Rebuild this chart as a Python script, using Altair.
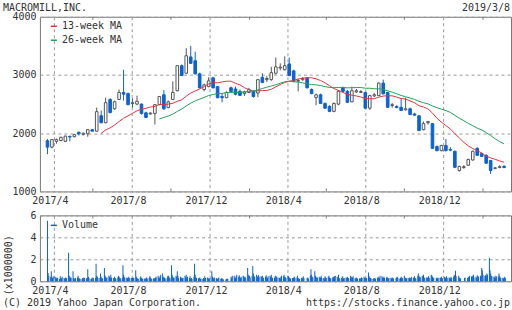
import altair as alt
import pandas as pd

TITLE = "MACROMILL,INC."
AS_OF = "2019/3/8"
COPYRIGHT = "(C) 2019 Yahoo Japan Corporation."
SOURCE = "https://stocks.finance.yahoo.co.jp"
MA_NAMES = ["13-week MA", "26-week MA"]
VOLUME_NAME = "Volume"
VOLUME_UNIT = "(x1000000)"

FIRST_WEEK_WED = "2017-03-22"
FIRST_WEEK_MON = "2017-03-20"

OPEN = [1870, 1760, 1860, 1875, 1860, 1945, 1940, 2015, 1980, 1990,
        2060, 2035, 2300, 2180, 2580, 2420, 2580, 2700, 2680, 2510,
        2500, 2500, 2350, 2330, 2340, 2490, 2660, 2440, 2580, 2730,
        3160, 3030, 3310, 3245, 3020, 2750, 2800, 2950, 2800, 2630,
        2610, 2780, 2760, 2720, 2680, 2700, 2720, 2690, 2960, 2920,
        2920, 3030, 3120, 3090, 3190, 3070, 2895, 2920, 2950, 2750,
        2610, 2660, 2510, 2460, 2375, 2500, 2780, 2720, 2540, 2710,
        2700, 2700, 2430, 2640, 2645, 2860, 2700, 2475, 2460, 2445,
        2400, 2420, 2330, 2300, 2060, 2180, 2165, 1770, 1700, 1790,
        1720, 1690, 1360, 1410, 1450, 1540, 1740, 1650, 1620, 1530,
        1395, 1410, 1430]
HIGH = [1900, 1900, 1910, 1940, 1960, 1960, 1990, 2030, 2010, 2070,
        2070, 2440, 2390, 2610, 2600, 2560, 2750, 3090, 2700, 2600,
        2645, 2510, 2370, 2360, 2500, 2640, 2740, 2560, 2890, 3170,
        3180, 3460, 3500, 3400, 3040, 2850, 2960, 2970, 2810, 2680,
        2720, 2800, 2800, 2750, 2730, 2780, 2740, 2930, 3030, 2980,
        3140, 3300, 3200, 3320, 3300, 3090, 2940, 2960, 2960, 2770,
        2680, 2680, 2530, 2480, 2530, 2740, 2800, 2740, 2800, 2760,
        2740, 2710, 2660, 2690, 2870, 2920, 2710, 2520, 2480, 2600,
        2610, 2440, 2350, 2310, 2200, 2210, 2170, 1790, 1800, 1900,
        1760, 1700, 1440, 1450, 1560, 1700, 1760, 1670, 1640, 1540,
        1420, 1450, 1450]
LOW = [1640, 1740, 1820, 1860, 1850, 1860, 1930, 1960, 1960, 1940,
       2030, 2030, 2170, 2170, 2340, 2400, 2570, 2560, 2480, 2440,
       2480, 2320, 2260, 2320, 2150, 2480, 2400, 2430, 2570, 2720,
       2980, 3020, 3190, 3010, 2770, 2720, 2790, 2770, 2600, 2530,
       2600, 2700, 2650, 2640, 2640, 2690, 2610, 2620, 2860, 2880,
       2900, 3010, 3080, 3080, 2980, 2880, 2720, 2900, 2770, 2670,
       2480, 2500, 2420, 2360, 2360, 2480, 2700, 2520, 2530, 2690,
       2690, 2420, 2400, 2620, 2640, 2670, 2440, 2440, 2430, 2380,
       2390, 2310, 2300, 2040, 2050, 2150, 1730, 1690, 1690, 1690,
       1690, 1400, 1340, 1390, 1440, 1530, 1610, 1590, 1480, 1300,
       1380, 1400, 1400]
CLOSE = [1760, 1890, 1890, 1930, 1950, 1935, 1975, 1990, 2000, 2060,
         2035, 2370, 2180, 2525, 2355, 2540, 2700, 2670, 2490, 2525,
         2550, 2340, 2270, 2345, 2490, 2630, 2420, 2540, 2700, 3160,
         2990, 3330, 3200, 3020, 2780, 2830, 2900, 2780, 2610, 2610,
         2700, 2715, 2670, 2650, 2710, 2750, 2630, 2920, 2870, 2940,
         3040, 3140, 3135, 3160, 2990, 2890, 2905, 2940, 2780, 2680,
         2660, 2510, 2430, 2375, 2510, 2720, 2720, 2530, 2730, 2730,
         2715, 2430, 2645, 2660, 2860, 2675, 2445, 2490, 2440, 2390,
         2420, 2320, 2310, 2045, 2165, 2200, 1740, 1700, 1790, 1700,
         1710, 1415, 1430, 1425, 1550, 1690, 1620, 1600, 1485, 1360,
         1405, 1425, 1410]

# daily volume (millions of shares), one list per week
VOLUME = [
    [5.5, 0.75, 0.5], [0.4, 0.9, 0.35, 0.3, 0.45], [0.4, 0.3, 0.25, 0.35, 0.3],
    [0.2, 0.45, 0.3, 0.25, 0.4], [0.3, 0.2, 0.35, 0.25, 0.3], [2.6, 0.5, 0.4, 0.3, 0.35],
    [0.9, 0.3, 0.25, 0.2, 0.3], [0.35, 0.5, 0.3, 0.25, 0.2], [0.2, 0.3, 0.25, 0.35, 0.3],
    [0.25, 0.3, 1.1, 0.4, 0.3], [0.2, 0.25, 0.3, 0.35, 0.25], [0.3, 1.6, 0.5, 0.4, 0.3],
    [0.3, 0.7, 0.4, 0.3, 0.25], [1.2, 0.5, 0.4, 0.3, 0.35], [0.5, 0.4, 0.3, 0.6, 0.35],
    [0.3, 0.25, 0.4, 0.3, 0.2], [0.35, 0.5, 0.4, 0.3, 0.25], [0.3, 1.45, 0.6, 0.4, 0.3],
    [0.35, 0.3, 0.25, 0.4, 0.3], [0.3, 0.25, 0.3, 0.35, 0.3], [1.0, 0.4, 0.3, 0.25, 0.2],
    [0.35, 0.45, 0.3, 0.2, 0.25], [0.25, 0.2, 0.3, 0.35, 0.25], [0.3, 0.45, 0.35, 0.25, 0.2],
    [0.25, 0.3, 0.2, 0.35, 0.4], [0.5, 0.35, 0.3, 0.45, 0.6], [0.7, 0.4, 0.3, 0.35, 0.25],
    [0.3, 0.45, 0.5, 0.4, 0.3], [1.45, 0.6, 0.4, 0.3, 0.35], [0.5, 0.4, 0.9, 0.5, 0.3],
    [0.4, 0.3, 0.35, 0.25, 0.3], [0.5, 0.35, 0.6, 0.3, 0.4], [0.3, 0.45, 0.25, 0.3, 0.2],
    [0.4, 1.6, 0.6, 0.35, 0.3], [0.25, 0.3, 0.35, 0.2, 0.25], [0.2, 0.3, 0.25, 0.45, 0.3],
    [0.35, 0.3, 0.25, 0.2, 0.3], [0.9, 0.4, 0.3, 0.25, 0.35], [0.3, 0.25, 0.2, 0.3, 0.35],
    [0.2, 0.25, 0.3, 0.2, 0.15], [0.15, 0.2, 0.25, 0.2], [0.4, 0.3, 0.5],
    [0.5, 0.35, 0.3, 0.45, 0.6], [0.4, 0.55, 0.35, 0.3, 0.4], [0.5, 0.45, 0.35, 0.4, 0.3],
    [1.2, 0.6, 0.45, 0.5, 0.35], [0.5, 1.4, 0.7, 0.45, 0.4], [0.6, 0.45, 0.35, 0.55, 0.4],
    [0.45, 0.4, 0.5, 0.35, 0.3], [0.4, 0.55, 0.35, 0.3, 0.45], [0.5, 0.4, 0.6, 0.35, 0.3],
    [0.3, 0.45, 0.5, 0.4, 0.35], [0.35, 0.3, 0.25, 0.4, 0.5], [0.45, 0.6, 0.4, 0.35, 0.3],
    [0.5, 0.45, 0.35, 0.3, 0.25], [0.3, 0.25, 0.35, 0.4, 0.3], [0.35, 0.5, 0.3, 0.25, 0.2],
    [0.3, 0.35, 0.25, 0.45, 0.3], [0.3, 0.35, 0.25], [0.5, 1.1, 0.6, 0.4, 0.35],
    [0.9, 0.5, 0.4, 0.3, 0.35], [0.4, 0.3, 0.35, 0.5, 0.3], [0.3, 0.25, 0.45, 0.35, 0.3],
    [0.4, 0.5, 0.35, 0.3, 0.25], [0.35, 0.4, 0.3, 0.45, 0.5], [0.4, 0.35, 0.6, 0.3, 0.25],
    [0.3, 0.45, 0.35, 0.25, 0.3], [0.35, 0.3, 0.4, 0.25, 0.3], [0.5, 0.4, 0.3, 0.35, 0.45],
    [0.3, 0.25, 0.35, 0.3, 0.2], [0.25, 0.3, 0.2, 0.35, 0.3], [0.4, 0.3, 0.35, 0.25, 0.3],
    [0.8, 0.45, 0.35, 0.3, 0.25], [0.2, 0.25, 0.3, 0.2, 0.25], [0.3, 0.4, 0.35, 0.3, 0.5],
    [0.45, 0.35, 0.3, 0.4, 0.3], [0.35, 0.4, 0.3, 0.25, 0.3], [0.3, 0.25, 0.35, 0.3, 0.25],
    [0.3, 0.35, 0.4, 0.3], [0.25, 0.3, 0.4, 0.35, 0.3], [0.5, 0.35, 0.3, 0.25, 0.3],
    [0.3, 0.35, 0.3, 0.25, 0.4], [0.35, 0.3, 0.45, 0.3, 0.25], [0.5, 0.7, 0.45, 0.4, 0.35],
    [0.5, 0.4, 0.6, 0.35, 0.3], [0.35, 0.3, 0.4, 0.45, 0.3], [0.6, 0.55, 0.4, 0.35, 0.3],
    [0.3, 0.35, 0.25, 0.3], [0.35, 0.3, 0.4, 0.3, 0.25], [0.4, 0.3, 0.35, 0.45, 0.3],
    [0.35, 0.3, 0.25, 0.4, 0.3], [0.4, 0.6, 0.5, 0.95, 0.45], [0.5, 0.35, 0.3, 0.25],
    [0.3, 0.35], [0.3, 0.4, 0.35, 0.5], [0.4, 0.5, 0.45, 0.6, 0.35],
    [0.4, 0.3, 0.55, 0.45, 0.4], [0.5, 0.45, 1.2, 1.0, 0.6], [0.5, 0.55, 0.45, 0.7, 0.6],
    [2.15, 1.0, 0.7, 0.5, 0.45], [0.4, 0.35, 0.5, 0.3, 0.45], [0.4, 0.7, 0.5, 0.35, 0.3],
    [0.3, 0.25, 0.35, 0.4, 0.3],
]

LABEL_MONTHS = [(2017, 4), (2017, 8), (2017, 12), (2018, 4), (2018, 8), (2018, 12)]
MINOR_MONTHS = [(2017, 6), (2017, 10), (2018, 2), (2018, 6), (2018, 10), (2019, 2)]

# ---------- styling ----------
BLUE = "#0b62d6"
RED = "#e5343a"
GREEN = "#1ea35a"
GRAY = "#555555"
FRAME = "#777777"
GRID = "#9a9a9a"
TXT = "#333333"
FONT = "DejaVu Sans Mono"
FS = 10
W = 472
H_MAIN = 175
H_VOL = 66

# ---------- data frames ----------
dates = pd.date_range(FIRST_WEEK_WED, periods=len(OPEN), freq="7D")
candles = pd.DataFrame({"date": dates, "open": OPEN, "high": HIGH,
                        "low": LOW, "close": CLOSE})
ma = pd.DataFrame({
    "date": dates,
    "ma13": candles["close"].rolling(13).mean(),
    "ma26": candles["close"].rolling(26).mean(),
})
ma13 = ma.dropna(subset=["ma13"])[["date", "ma13"]]
ma26 = ma.dropna(subset=["ma26"])[["date", "ma26"]]

rows = []
mon0 = pd.Timestamp(FIRST_WEEK_MON)
for i, week in enumerate(VOLUME):
    monday = mon0 + pd.Timedelta(days=7 * i)
    off = 5 - len(week)
    for j, v in enumerate(week):
        rows.append({"date": monday + pd.Timedelta(days=off + j), "vol": v})
vol = pd.DataFrame(rows)

minor = pd.DataFrame({"date": [pd.Timestamp(y, m, 1) for y, m in MINOR_MONTHS]})

x_scale = alt.Scale(domain=[alt.DateTime(year=2017, month=3, date=18),
                            alt.DateTime(year=2019, month=3, date=9)])
x_vals = [alt.DateTime(year=y, month=m, date=1) for y, m in LABEL_MONTHS]


def x_axis():
    return alt.Axis(values=x_vals, format="%Y/%-m", grid=True, gridDash=[3, 3],
                    gridColor=GRID, ticks=False, labelPadding=4, domain=False,
                    labelFont=FONT, labelFontSize=FS, labelColor=TXT,
                    labelFlush=False, labelOffset=-4)


def text_layer(label, x, y, align="left", angle=0):
    return alt.Chart(pd.DataFrame({"t": [label]})).mark_text(
        align=align, baseline="middle", font=FONT, fontSize=FS, color=TXT,
        angle=angle).encode(x=alt.value(x), y=alt.value(y), text="t:N")


def dash_layer(color, y):
    return alt.Chart(pd.DataFrame({"c": [color]})).mark_rect(color=color).encode(
        x=alt.value(11), x2=alt.value(17), y=alt.value(y - 0.75),
        y2=alt.value(y + 0.75))


up = "datum.close >= datum.open"

# ---------- main price panel ----------
base = alt.Chart(candles)
price_axis = alt.Axis(values=[1000, 2000, 3000, 4000], format="d", grid=True,
                      gridDash=[3, 3], gridColor=GRID, ticks=False,
                      labelPadding=4, domain=False, labelFont=FONT,
                      labelFontSize=FS, labelColor=TXT)
y_price = alt.Scale(domain=[1000, 4000])

wick = base.mark_rule(strokeWidth=1).encode(
    x=alt.X("date:T", scale=x_scale, axis=x_axis(), title=None),
    y=alt.Y("low:Q", scale=y_price, axis=price_axis, title=None),
    y2="high:Q",
    color=alt.condition(up, alt.value(GRAY), alt.value(BLUE)),
)
body = base.mark_bar(size=2.6, strokeWidth=1).encode(
    x=alt.X("date:T"),
    y=alt.Y("open:Q"),
    y2="close:Q",
    fill=alt.condition(up, alt.value("white"), alt.value(BLUE)),
    stroke=alt.condition(up, alt.value(GRAY), alt.value(BLUE)),
)
line13 = alt.Chart(ma13).mark_line(color=RED, strokeWidth=1).encode(
    x="date:T", y="ma13:Q")
line26 = alt.Chart(ma26).mark_line(color=GREEN, strokeWidth=1).encode(
    x="date:T", y="ma26:Q")

minor_top = alt.Chart(minor).mark_rule(color=FRAME).encode(
    x="date:T", y=alt.value(0), y2=alt.value(3))
minor_bot = alt.Chart(minor).mark_rule(color=FRAME).encode(
    x="date:T", y=alt.value(H_MAIN - 3), y2=alt.value(H_MAIN))

main = alt.layer(
    wick, body, line13, line26, minor_top, minor_bot,
    dash_layer(RED, 9.5), dash_layer(GREEN, 23.5),
    text_layer(MA_NAMES[0], 22, 9.5), text_layer(MA_NAMES[1], 22, 23.5),
    text_layer(TITLE, -37, -8.5), text_layer(AS_OF, 471, -8.5, align="right"),
).properties(width=W, height=H_MAIN)

# ---------- volume panel ----------
vol_axis = alt.Axis(values=[0, 2, 4, 6], format="d", grid=True, gridDash=[3, 3],
                    gridColor=GRID, ticks=False, labelPadding=4, domain=False,
                    labelFont=FONT, labelFontSize=FS, labelColor=TXT)
vbars = alt.Chart(vol).mark_bar(size=1, color=BLUE).encode(
    x=alt.X("date:T", scale=x_scale, axis=x_axis(), title=None),
    y=alt.Y("vol:Q", scale=alt.Scale(domain=[0, 6]), axis=vol_axis, title=None),
)
vminor_top = alt.Chart(minor).mark_rule(color=FRAME).encode(
    x="date:T", y=alt.value(0), y2=alt.value(3))
vminor_bot = alt.Chart(minor).mark_rule(color=FRAME).encode(
    x="date:T", y=alt.value(H_VOL - 3), y2=alt.value(H_VOL))

volume = alt.layer(
    vbars, vminor_top, vminor_bot,
    dash_layer(BLUE, 10), text_layer(VOLUME_NAME, 22, 10),
    text_layer(VOLUME_UNIT, -31, 50, align="center", angle=270),
    text_layer(COPYRIGHT, -37, 88), text_layer(SOURCE, 471, 88, align="right"),
).properties(width=W, height=H_VOL)

chart = alt.vconcat(main, volume, spacing=24, bounds="flush").properties(
    padding={"left": 2, "top": 2.5, "right": 0, "bottom": 2},
    background="white",
).configure_view(stroke=FRAME, strokeWidth=1)

chart.save("out.html", embed_options={"renderer": "svg", "actions": False})
